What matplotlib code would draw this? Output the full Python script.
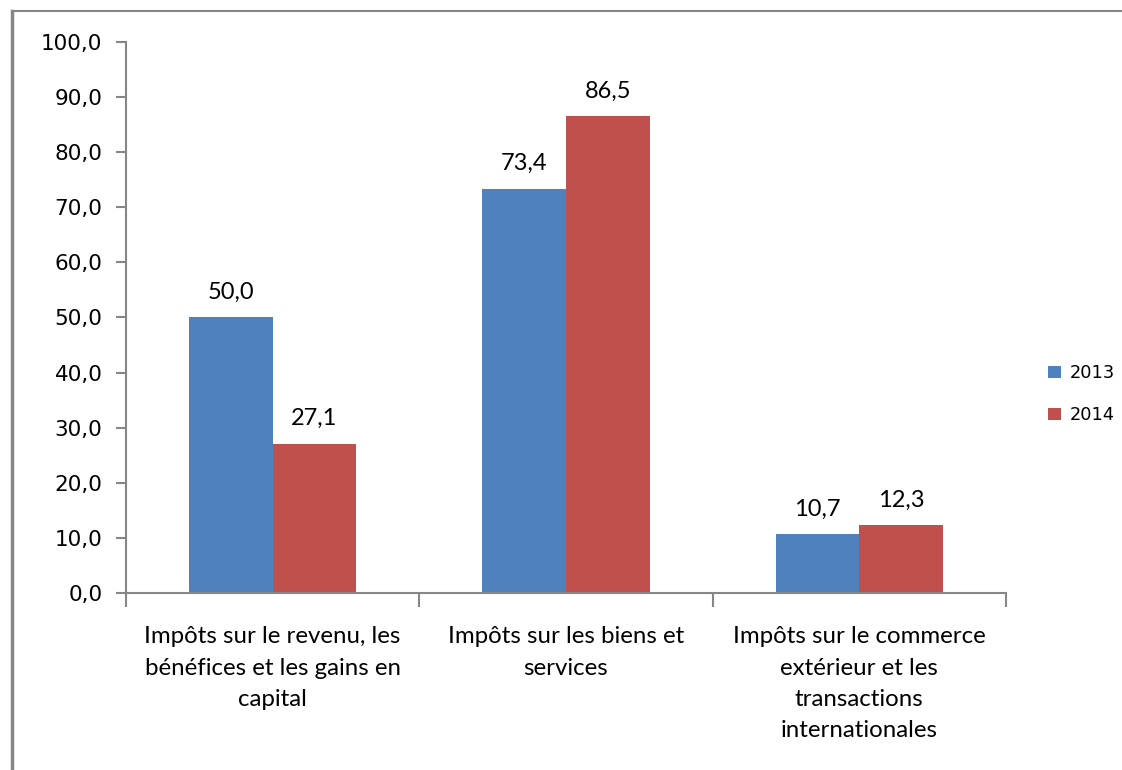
import numpy as np
import matplotlib.pyplot as plt
from matplotlib.lines import Line2D

categories = ["Impôts sur le revenu, les\nbénéfices et les gains en\ncapital",
              "Impôts sur les biens et\nservices",
              "Impôts sur le commerce\nextérieur et les\ntransactions\ninternationales"]
years = ["2013", "2014"]
values_2013 = [50.0, 73.4, 10.7]
values_2014 = [27.1, 86.5, 12.3]
colors = ["#4F81BD", "#C0504D"]

axis_gray = "#868686"
label_font = "Lato"

fig = plt.figure(figsize=(11.22, 7.7), dpi=100)
ax = fig.add_axes([0.1123, 0.2299, 0.7843, 0.7156])

x = np.arange(len(categories))
w = 0.285
bars1 = ax.bar(x - w / 2, values_2013, w, color=colors[0], label=years[0])
bars2 = ax.bar(x + w / 2, values_2014, w, color=colors[1], label=years[1])

for bars, vals in [(bars1, values_2013), (bars2, values_2014)]:
    for b, v in zip(bars, vals):
        ax.annotate(f"{v:.1f}".replace(".", ","),
                    (b.get_x() + b.get_width() / 2, v),
                    xytext=(0, 18), textcoords="offset points",
                    ha="center", va="center", fontsize=17, family=label_font)

ax.set_xlim(-0.5, 2.5)
ax.set_ylim(0, 100)
ax.set_yticks(np.arange(0, 101, 10))
ax.set_yticklabels([f"{t:.1f}".replace(".", ",") for t in np.arange(0, 101, 10)])
ax.set_xticks([-0.5, 0.5, 1.5, 2.5])
ax.set_xticklabels([])
ax.set_xticks(x, minor=True)
ax.set_xticklabels(categories, minor=True, fontsize=17.3, family=label_font,
                   linespacing=1.6, va="top")
ax.tick_params(axis="x", which="minor", length=0, pad=24)
ax.tick_params(axis="x", which="major", direction="out", length=10, color=axis_gray, width=1.5)
ax.tick_params(axis="y", direction="out", length=7, color=axis_gray, width=1.5,
               labelsize=15.5, pad=10)

for s in ["top", "right"]:
    ax.spines[s].set_visible(False)
for s in ["left", "bottom"]:
    ax.spines[s].set_color(axis_gray)
    ax.spines[s].set_linewidth(1.5)

ax.legend(loc="center left", bbox_to_anchor=(1.03, 0.361), frameon=False,
          fontsize=12.8, handlelength=0.7, handleheight=0.7, labelspacing=1.35,
          handletextpad=0.5)

# chart border (top and left edges visible)
fig.add_artist(Line2D([0.0107, 1.0], [0.9857, 0.9857], color=axis_gray, lw=1.5))
fig.add_artist(Line2D([0.0107, 0.0107], [0.0, 0.9857], color=axis_gray, lw=2.5))

fig.savefig("out.png", dpi=100)
